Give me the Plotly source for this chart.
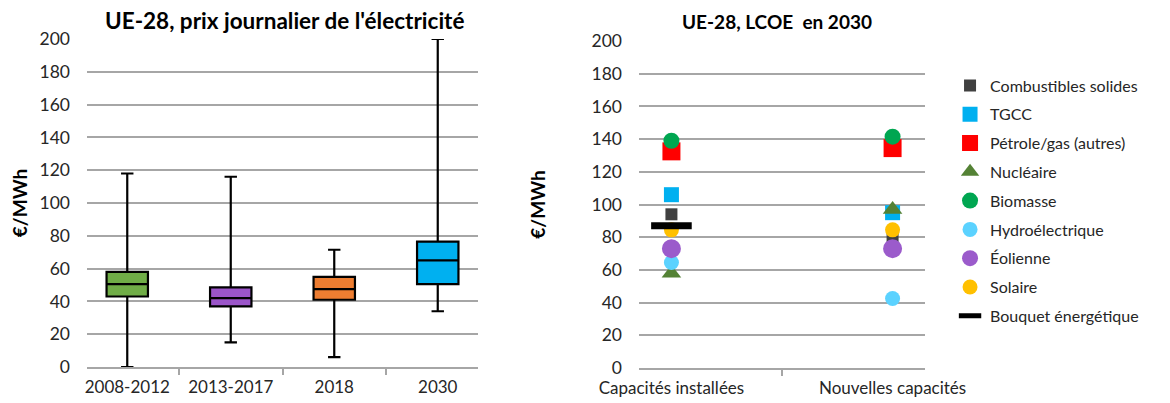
import plotly.graph_objects as go

# ---- Left chart data: daily electricity price distribution (EUR/MWh)
periods = ["2008-2012", "2013-2017", "2018", "2030"]
p_low = [0, 15, 6, 34]
p_q1 = [43, 37, 41, 50.5]
p_median = [50.5, 42, 47.5, 65]
p_q3 = [58, 48.5, 55, 76.5]
p_high = [118, 116, 71.5, 200]
box_colors = ["#70AD47", "#9B55C9", "#ED7D31", "#00B0F0"]

# ---- Right chart data: LCOE 2030 (EUR/MWh)
capacities = ["Capacités installées", "Nouvelles capacités"]
technologies = ["Combustibles solides", "TGCC", "Pétrole/gas (autres)", "Nucléaire",
                "Biomasse", "Hydroélectrique", "Éolienne", "Solaire", "Bouquet énergétique"]
lcoe = {
    "Combustibles solides": [94, 79.5],
    "TGCC": [106, 95],
    "Pétrole/gas (autres)": [132.5, 134.5],
    "Nucléaire": [58, 97],
    "Biomasse": [139, 141.5],
    "Hydroélectrique": [64.5, 42.5],
    "Éolienne": [73, 73],
    "Solaire": [84.5, 84.5],
    "Bouquet énergétique": [87, None],
}
tech_colors = ["#404040", "#00B0F0", "#FF0000", "#548235", "#00A651",
               "#5BD2FF", "#9B5BCB", "#FFC000", "#000000"]
tech_symbols = ["square", "square", "square", "triangle-up", "circle",
                "circle", "circle", "circle", "line-ew"]
tech_sizes = [12, 15, 18, 17, 16, 15, 19, 15, 29]

FONT = "Lato"
TXT = "#262626"
GRID = "#A6A6A6"

fig = go.Figure()

for i, p in enumerate(periods):
    fig.add_trace(go.Box(
        x=[p], q1=[p_q1[i]], median=[p_median[i]], q3=[p_q3[i]],
        lowerfence=[p_low[i]], upperfence=[p_high[i]],
        fillcolor=box_colors[i], line=dict(color="#000000", width=2.2),
        width=0.4, whiskerwidth=0.3, boxpoints=False,
        showlegend=False, xaxis="x", yaxis="y", hoverinfo="skip",
    ))

for i, t in enumerate(technologies):
    mk = dict(color=tech_colors[i], symbol=tech_symbols[i], size=tech_sizes[i])
    if tech_symbols[i] == "line-ew":
        mk["line"] = dict(color=tech_colors[i], width=7)
    else:
        mk["line"] = dict(width=0)
    fig.add_trace(go.Scatter(
        x=capacities, y=lcoe[t], mode="markers", name=t, marker=mk,
        xaxis="x2", yaxis="y2", legendgroup=t,
    ))


def yaxis_common(standoff):
    return dict(
        range=[0, 200], dtick=20, showgrid=True, gridcolor=GRID, gridwidth=1.5,
        zeroline=False, showline=False, ticks="", ticklabelstandoff=16,
        automargin=False,
        tickfont=dict(family=FONT, size=17.5, color=TXT),
        title=dict(text="<b>€/MWh</b>", font=dict(family=FONT, size=19, color="#000"),
                   standoff=standoff),
    )


xaxis_common = dict(
    type="category", showgrid=False, zeroline=False, showline=True,
    linecolor=GRID, linewidth=1.5, ticks="outside", tickson="boundaries",
    ticklen=6, tickcolor=GRID, tickwidth=1.5, automargin=False,
    tickfont=dict(family=FONT, size=17, color=TXT), ticklabelstandoff=4,
)

fig.update_layout(
    width=1170, height=403,
    margin=dict(l=0, r=0, t=0, b=0, autoexpand=False),
    paper_bgcolor="white", plot_bgcolor="white",
    boxmode="overlay",
    xaxis=dict(domain=[87/1170, 478/1170], anchor="y", **xaxis_common),
    yaxis=dict(domain=[(403-367)/403, (403-39)/403], anchor="x", **yaxis_common(6)),
    xaxis2=dict(domain=[639/1170, 925/1170], anchor="y2", **xaxis_common),
    yaxis2=dict(domain=[(403-368)/403, (403-41)/403], anchor="x2", **yaxis_common(40)),
    legend=dict(
        x=0.812, y=0.83, xanchor="left", yanchor="top",
        font=dict(family=FONT, size=16, color=TXT),
        tracegroupgap=5, bgcolor="rgba(0,0,0,0)",
    ),
    annotations=[
        dict(text="<b>UE-28, prix journalier de l'électricité</b>", x=284/1170, y=(403-20)/403,
             xref="paper", yref="paper", showarrow=False, xanchor="center", yanchor="middle",
             font=dict(family=FONT, size=22.5, color="#000")),
        dict(text="<b>UE-28, LCOE  en 2030</b>", x=777/1170, y=(403-21)/403,
             xref="paper", yref="paper", showarrow=False, xanchor="center", yanchor="middle",
             font=dict(family=FONT, size=19, color="#000")),
    ],
    showlegend=True,
)

fig.write_html("out.html",
               config={"displayModeBar": False},
               post_script="document.body.style.margin='0';document.body.style.overflow='hidden';")
